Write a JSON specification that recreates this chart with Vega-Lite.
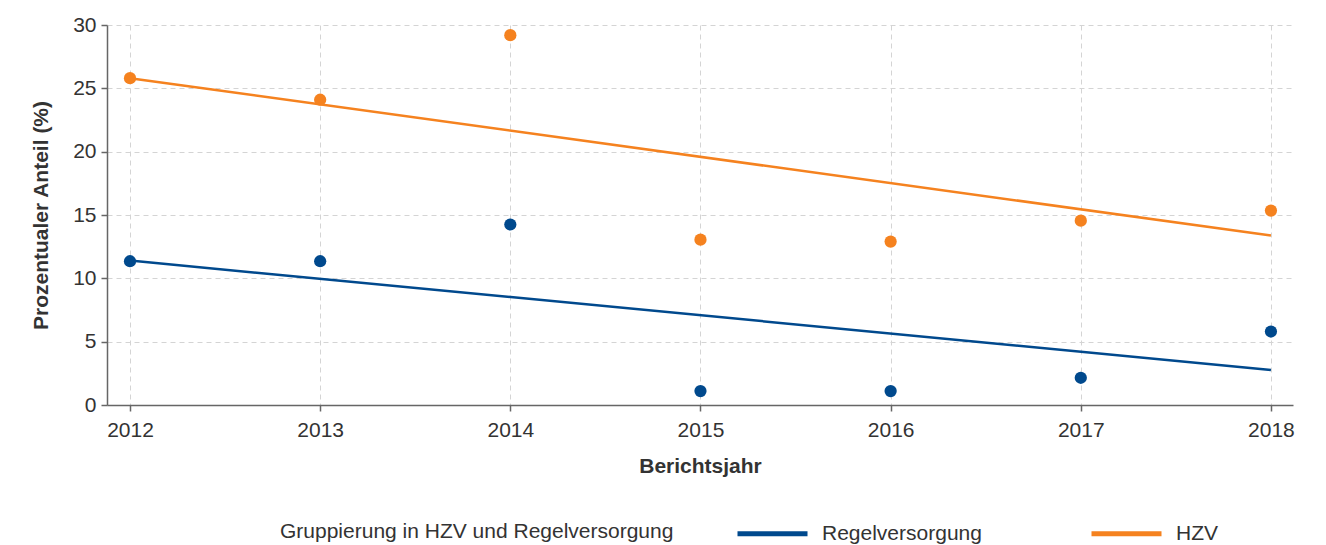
{
  "$schema": "https://vega.github.io/schema/vega-lite/v6.json",
  "autosize": {"type": "none"},
  "padding": {"left": 107, "top": 25, "right": 33, "bottom": 140},
  "width": 1186,
  "height": 380,
  "background": "white",
  "config": {
    "font": "Liberation Sans",
    "view": {"stroke": null},
    "axis": {
      "labelFont": "Liberation Sans",
      "titleFont": "Liberation Sans",
      "labelFontSize": 21,
      "titleFontSize": 21,
      "labelColor": "#333333",
      "titleColor": "#333333",
      "titleFontWeight": "bold",
      "domainColor": "#666666",
      "domainWidth": 1.5,
      "tickColor": "#666666",
      "tickWidth": 1.5,
      "tickSize": 6,
      "gridColor": "#d4d4d4",
      "gridDash": [5, 4],
      "gridWidth": 1
    },
    "legend": {
      "labelFont": "Liberation Sans",
      "titleFont": "Liberation Sans",
      "labelFontSize": 21,
      "titleFontSize": 21,
      "labelColor": "#333333",
      "titleColor": "#333333",
      "titleFontWeight": "normal",
      "titleLimit": 1000,
      "labelLimit": 1000
    }
  },
  "datasets": {
    "pts": [
      {"year": 2012, "gruppe": "HZV", "value": 25.8},
      {"year": 2013, "gruppe": "HZV", "value": 24.1},
      {"year": 2014, "gruppe": "HZV", "value": 29.2},
      {"year": 2015, "gruppe": "HZV", "value": 13.05},
      {"year": 2016, "gruppe": "HZV", "value": 12.9},
      {"year": 2017, "gruppe": "HZV", "value": 14.55},
      {"year": 2018, "gruppe": "HZV", "value": 15.35},
      {"year": 2012, "gruppe": "Regelversorgung", "value": 11.35},
      {"year": 2013, "gruppe": "Regelversorgung", "value": 11.35},
      {"year": 2014, "gruppe": "Regelversorgung", "value": 14.25},
      {"year": 2015, "gruppe": "Regelversorgung", "value": 1.1},
      {"year": 2016, "gruppe": "Regelversorgung", "value": 1.1},
      {"year": 2017, "gruppe": "Regelversorgung", "value": 2.15},
      {"year": 2018, "gruppe": "Regelversorgung", "value": 5.8}
    ],
    "trend": [
      {"year": 2012, "gruppe": "HZV", "value": 25.8},
      {"year": 2018, "gruppe": "HZV", "value": 13.38},
      {"year": 2012, "gruppe": "Regelversorgung", "value": 11.4},
      {"year": 2018, "gruppe": "Regelversorgung", "value": 2.77}
    ]
  },
  "encoding": {
    "x": {
      "field": "year",
      "type": "quantitative",
      "title": "Berichtsjahr",
      "scale": {"domain": [2011.879, 2018.116], "nice": false, "zero": false},
      "axis": {"values": [2012, 2013, 2014, 2015, 2016, 2017, 2018], "format": "d", "labelPadding": 8, "titlePadding": 15, "labelFlush": false}
    },
    "y": {
      "field": "value",
      "type": "quantitative",
      "title": "Prozentualer Anteil (%)",
      "scale": {"domain": [0, 30], "nice": false},
      "axis": {"values": [0, 5, 10, 15, 20, 25, 30], "labelPadding": 5, "titlePadding": 21}
    },
    "color": {
      "field": "gruppe",
      "type": "nominal",
      "scale": {"domain": ["Regelversorgung", "HZV"], "range": ["#00498D", "#F5821F"]}
    }
  },
  "layer": [
    {
      "data": {"name": "trend"},
      "mark": {"type": "line", "strokeWidth": 2.5},
      "encoding": {
        "color": {
          "field": "gruppe",
          "type": "nominal",
          "title": "Gruppierung in HZV und Regelversorgung",
          "legend": {
            "orient": "none",
            "legendX": 173,
            "legendY": 471,
            "direction": "horizontal",
            "titleOrient": "left",
            "titleAnchor": "middle",
            "titleBaseline": "line-top",
            "titleLineHeight": 24,
            "titlePadding": 61,
            "symbolType": "stroke",
            "symbolSize": 4900,
            "symbolStrokeWidth": 5,
            "labelOffset": 12,
            "columnPadding": 99
          }
        }
      }
    },
    {
      "data": {"name": "pts"},
      "mark": {"type": "point", "filled": true, "opacity": 1, "size": 150},
      "encoding": {
        "color": {"field": "gruppe", "type": "nominal", "legend": null}
      }
    }
  ]
}
